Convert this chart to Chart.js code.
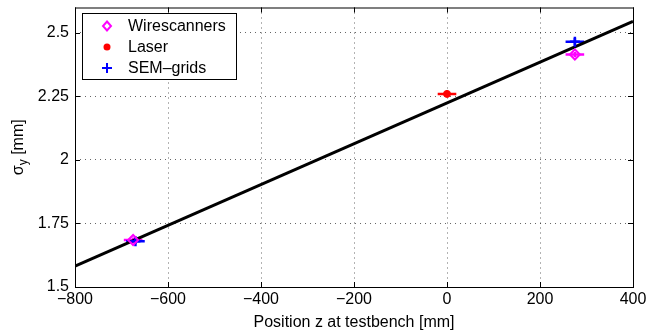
<!DOCTYPE html>
<html>
<head>
<meta charset="utf-8">
<script src="https://cdn.jsdelivr.net/npm/chart.js@4"></script>
<style>
  html, body { margin: 0; padding: 0; background: #fff; }
  #wrap { width: 648px; height: 333px; }
</style>
</head>
<body>
<div id="wrap"><canvas id="c" width="648" height="333"></canvas></div>
<script>
// ── data ──────────────────────────────────────────────────────────────────
const wireZ    = [-675, 275];
const wireSig  = [1.685, 2.415];
const wireZErr = [20, 20];
const wireSErr = [0.01, 0.01];

const laserZ    = [0];
const laserSig  = [2.26];
const laserZErr = [20];
const laserSErr = [0.005];

const semZ    = [-670, 275];
const semSig  = [1.68, 2.465];
const semZErr = [20, 20];
const semSErr = [0.01, 0.015];

const fitZ   = [-800, 400];
const fitSig = [1.582, 2.545];

const xTicks = [-800, -600, -400, -200, 0, 200, 400];
const yTicks = [1.5, 1.75, 2, 2.25, 2.5];

const FONT = '"Liberation Sans", Arial, sans-serif';

const pts = (xs, ys) => xs.map((x, i) => ({ x, y: ys[i] }));

// horizontal / vertical error bars, drawn through the scales
const errorBars = {
  id: 'errorBars',
  beforeDatasetsDraw(chart) {
    const { ctx, scales: { x, y } } = chart;
    chart.data.datasets.forEach(ds => {
      if (!ds.xErr) return;
      ctx.save();
      ctx.strokeStyle = ds.borderColor;
      ctx.lineWidth = 2.5;
      ds.data.forEach((p, i) => {
        const px = x.getPixelForValue(p.x), py = y.getPixelForValue(p.y);
        ctx.beginPath();
        ctx.moveTo(x.getPixelForValue(p.x - ds.xErr[i]), py);
        ctx.lineTo(x.getPixelForValue(p.x + ds.xErr[i]), py);
        ctx.moveTo(px, y.getPixelForValue(p.y - ds.yErr[i]));
        ctx.lineTo(px, y.getPixelForValue(p.y + ds.yErr[i]));
        ctx.stroke();
      });
      ctx.restore();
    });
  },
};

// MATLAB-style frame: box, inward ticks, axis titles, legend
const frame = {
  id: 'frame',
  afterDraw(chart) {
    const { ctx, chartArea: a, scales: { x, y } } = chart;
    ctx.save();
    ctx.strokeStyle = '#000';
    ctx.lineWidth = 1;
    ctx.strokeRect(a.left + 0.5, a.top + 0.5, a.right - a.left, a.bottom - a.top);

    ctx.beginPath();
    xTicks.forEach(v => {
      const px = Math.round(x.getPixelForValue(v)) + 0.5;
      ctx.moveTo(px, a.bottom); ctx.lineTo(px, a.bottom - 5);
      ctx.moveTo(px, a.top);    ctx.lineTo(px, a.top + 5);
    });
    yTicks.forEach(v => {
      const py = Math.round(y.getPixelForValue(v)) + 0.5;
      ctx.moveTo(a.left, py);  ctx.lineTo(a.left + 5, py);
      ctx.moveTo(a.right, py); ctx.lineTo(a.right - 5, py);
    });
    ctx.stroke();

    // axis titles
    ctx.fillStyle = '#000';
    ctx.font = `16px ${FONT}`;
    ctx.textAlign = 'center';
    ctx.textBaseline = 'alphabetic';
    ctx.fillText('Position z at testbench [mm]', (a.left + a.right) / 2, 327);

    ctx.save();
    ctx.translate(23, (a.top + a.bottom) / 2);
    ctx.rotate(-Math.PI / 2);
    ctx.textAlign = 'left';
    const s = 'σ', rest = ' [mm]';
    ctx.font = `16px ${FONT}`;
    const w1 = ctx.measureText(s).width;
    ctx.font = `12px ${FONT}`;
    const w2 = ctx.measureText('y').width;
    ctx.font = `16px ${FONT}`;
    const w3 = ctx.measureText(rest).width;
    let sx = -(w1 + w2 + w3) / 2;
    ctx.fillText(s, sx, 0); sx += w1;
    ctx.font = `12px ${FONT}`;
    ctx.fillText('y', sx, 4); sx += w2;
    ctx.font = `16px ${FONT}`;
    ctx.fillText(rest, sx, 0);
    ctx.restore();

    // legend box
    const lx = 82, ly = 13, lw = 154, lh = 66;
    ctx.fillStyle = '#fff';
    ctx.fillRect(lx, ly, lw, lh);
    ctx.strokeRect(lx + 0.5, ly + 0.5, lw, lh);
    const items = chart.data.datasets.filter(d => d.legendText);
    ctx.font = `16px ${FONT}`;
    ctx.textAlign = 'left';
    ctx.textBaseline = 'middle';
    items.forEach((d, i) => {
      const cy = ly + 13 + i * 21, cx = lx + 25;
      ctx.strokeStyle = d.borderColor;
      ctx.fillStyle = d.borderColor;
      ctx.lineWidth = 2;
      ctx.beginPath();
      if (d.pointStyle === 'rectRot') {
        ctx.moveTo(cx, cy - 4.5); ctx.lineTo(cx + 4, cy);
        ctx.lineTo(cx, cy + 4.5); ctx.lineTo(cx - 4, cy); ctx.closePath();
        ctx.stroke();
      } else if (d.pointStyle === 'circle') {
        ctx.arc(cx, cy, 3.5, 0, Math.PI * 2); ctx.fill();
      } else {
        ctx.moveTo(cx - 5, cy); ctx.lineTo(cx + 5, cy);
        ctx.moveTo(cx, cy - 5); ctx.lineTo(cx, cy + 5); ctx.stroke();
      }
      ctx.fillStyle = '#000';
      ctx.fillText(d.legendText, lx + 46, cy + 1);
    });
    ctx.restore();
  },
};

const gridStyle = { color: 'rgba(0,0,0,0.6)', lineWidth: 1, drawTicks: false };
const borderStyle = { display: false, dash: [1, 4] };

new Chart(document.getElementById('c'), {
  type: 'scatter',
  data: {
    datasets: [
      {
        legendText: 'Wirescanners',
        data: pts(wireZ, wireSig),
        xErr: wireZErr, yErr: wireSErr,
        borderColor: '#ff00ff', backgroundColor: 'rgba(0,0,0,0)',
        pointStyle: 'rectRot', pointRadius: 5, borderWidth: 2,
      },
      {
        legendText: 'Laser',
        data: pts(laserZ, laserSig),
        xErr: laserZErr, yErr: laserSErr,
        borderColor: '#ff0000', backgroundColor: '#ff0000',
        pointStyle: 'circle', pointRadius: 3.5, borderWidth: 1,
      },
      {
        legendText: 'SEM–grids',
        data: pts(semZ, semSig),
        xErr: semZErr, yErr: semSErr,
        borderColor: '#0000ff', backgroundColor: '#0000ff',
        pointStyle: 'cross', pointRadius: 5, borderWidth: 2.5,
      },
      {
        type: 'line',
        data: pts(fitZ, fitSig),
        borderColor: '#000', borderWidth: 3,
        pointRadius: 0, fill: false,
      },
    ],
  },
  options: {
    responsive: false,
    animation: false,
    layout: { padding: { top: 7, right: 15, left: 0, bottom: 0 } },
    plugins: {
      legend:  { display: false },
      tooltip: { enabled: false },
    },
    scales: {
      x: {
        type: 'linear', min: -800, max: 400,
        afterBuildTicks: s => { s.ticks = xTicks.map(v => ({ value: v })); },
        afterFit: s => { s.height = 46; s.paddingLeft = 0; s.paddingRight = 0; },
        border: borderStyle,
        grid: gridStyle,
        ticks: {
          color: '#000', padding: 3, font: { family: FONT, size: 16 }, maxRotation: 0,
          callback: v => String(v).replace('-', '−'),
        },
      },
      y: {
        type: 'linear', min: 1.5, max: 2.6,
        afterBuildTicks: s => { s.ticks = yTicks.map(v => ({ value: v })); },
        afterFit: s => { s.width = 75; s.paddingTop = 0; s.paddingBottom = 0; },
        border: borderStyle,
        grid: gridStyle,
        ticks: {
          color: '#000', padding: 6, font: { family: FONT, size: 16 },
          callback: v => String(v),
        },
      },
    },
  },
  plugins: [errorBars, frame],
});
</script>
</body>
</html>
